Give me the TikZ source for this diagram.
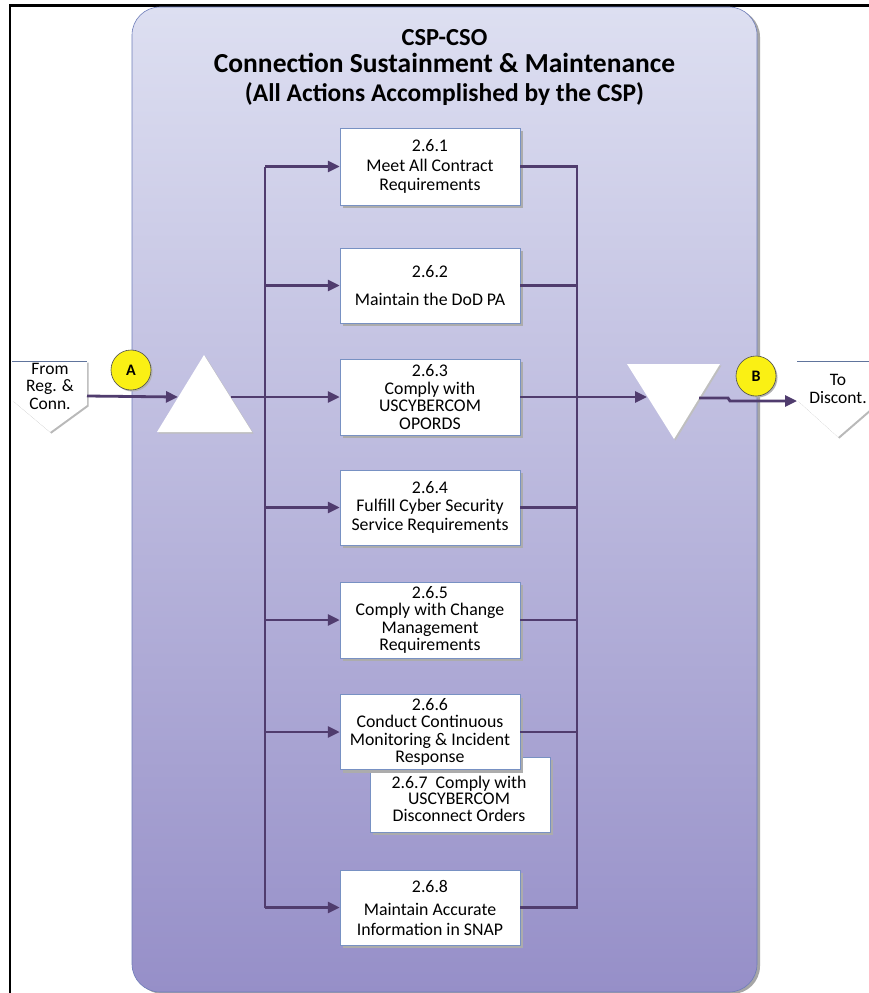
\documentclass[tikz,border=0pt]{standalone}
\usepackage{fontspec}
\setmainfont{Carlito}
\usetikzlibrary{arrows.meta,shadows}
\definecolor{flowc}{RGB}{80,60,110}
\definecolor{panelTop}{RGB}{221,223,241}
\definecolor{panelBot}{RGB}{150,143,200}
\definecolor{panelEdge}{RGB}{110,125,185}
\definecolor{boxEdge}{RGB}{120,145,195}
\definecolor{markY}{RGB}{250,240,20}
\tikzset{
  flow/.style={draw=flowc,line width=2.8pt},
  arr/.style={flow,-{Triangle[length=12pt,width=11pt]}},
  stepbox/.style={draw=boxEdge,line width=0.5pt,fill=white,minimum width=180pt,
    minimum height=76pt,inner sep=2pt,align=center,font=\fontsize{17.8}{17.5}\selectfont,
    drop shadow={shadow xshift=3pt,shadow yshift=-3pt,fill=gray!65,opacity=1}},
  steptext/.style={align=center,inner sep=0pt,font=\fontsize{17.8}{16.5}\selectfont},
  marker/.style={circle,fill=markY,draw=black!70,line width=0.6pt,minimum size=40pt,
    inner sep=0pt,font=\bfseries\fontsize{16}{16}\selectfont,
    drop shadow={shadow xshift=1.5pt,shadow yshift=-1.5pt,fill=gray!60,opacity=1}},
  conntext/.style={align=center,inner sep=0pt,font=\fontsize{17.5}{17.5}\selectfont},
  pageconn/.style={fill=white,drop shadow={shadow xshift=1.5pt,shadow yshift=-1.5pt,fill=gray!55,opacity=1}},
  tri/.style={fill=white,drop shadow={shadow xshift=1.5pt,shadow yshift=-1.5pt,fill=gray!50,opacity=1}}
}
\begin{document}
\begin{tikzpicture}[x=1pt,y=-1pt]
\useasboundingbox (0,0) rectangle (869,993);
\fill[white] (0,0) rectangle (869,993);

% page frame
\draw[black,line width=3pt] (9,5) -- (869,5);
\draw[black,line width=2pt] (10,4) -- (10,993);

% swim-lane panel
\fill[gray!70,rounded corners=28pt] (135,9) rectangle (760,994);
\shade[top color=panelTop,bottom color=panelBot,rounded corners=28pt,draw=panelEdge,line width=0.6pt]
  (132,7) rectangle (757,992);

% title
\node[align=center,inner sep=0pt,font=\bfseries\fontsize{24.5}{25}\selectfont] (title1) at (444.5,38) {CSP-CSO};
\node[align=center,inner sep=0pt,font=\bfseries\fontsize{27.5}{28}\selectfont] (title2) at (444.5,63) {Connection Sustainment \& Maintenance};
\node[align=center,inner sep=0pt,font=\bfseries\fontsize{25.5}{26}\selectfont] (title3) at (444.5,94) {(All Actions Accomplished by the CSP)};

% bus lines
\coordinate (busL) at (265,0);
\coordinate (busR) at (577,0);

% process steps (2.6.7 sits partly behind 2.6.6)
\node[stepbox,minimum height=75pt] (b7) at (460,794.5) {};
\node[steptext] (b7txt) at (459,798.5) {2.6.7\ \ Comply with\\USCYBERCOM\\Disconnect Orders};
\node[stepbox,minimum height=77pt] (b1) at (430,166.5) {2.6.1\\[2pt]Meet All Contract\\[2pt]Requirements};
\node[stepbox,minimum height=75pt] (b2) at (430,285.5) {2.6.2\\[10pt]Maintain the DoD PA};
\node[stepbox] (b3) at (430,397) {2.6.3\\Comply with\\USCYBERCOM\\OPORDS};
\node[stepbox,minimum height=75pt] (b4) at (430,507.5) {2.6.4\\Fulfill Cyber Security\\[2pt]Service Requirements};
\node[stepbox] (b5) at (430,620) {2.6.5\\Comply with Change\\Management\\Requirements};
\node[stepbox,minimum height=75pt] (b6) at (430,732) {2.6.6\\Conduct Continuous\\Monitoring \& Incident\\Response};
\node[stepbox,minimum height=75pt] (b8) at (430,907.5) {2.6.8\\[6pt]Maintain Accurate\\[2pt]Information in SNAP};

% merge / split triangles
\path[tri] (204,355) -- (252,432) -- (157,432) -- cycle;
\path[tri] (627,364) -- (720,364) -- (674,439) -- cycle;
\coordinate (upL) at (178,397);
\coordinate (upR) at (231,397);
\coordinate (dnL) at (647,397);
\coordinate (dnR) at (699,398);

% off-page connectors
\path[pageconn] (12,361) -- (87,361) -- (87,405) -- (50,432) -- (12,400) -- cycle;
\draw[draw=boxEdge!80!black,line width=0.7pt] (12,361) -- (87,361);
\node[conntext] (fromtxt) at (50,386) {From\\Reg. \&\\Conn.};
\coordinate (fromR) at (87,396);

\path[pageconn] (797,361) -- (875,361) -- (875,405) -- (838,437) -- (797,400) -- cycle;
\draw[draw=boxEdge!80!black,line width=0.7pt] (797,361) -- (869,361);
\node[conntext] (totxt) at (838,389) {To\\Discont.};
\coordinate (toL) at (797,401);

% markers
\node[marker] (mA) at (131,370) {A};
\node[marker] (mB) at (756,376) {B};

% flow connectors
\draw[arr] (fromR) -- (upL);
\draw[flow] (busL |- b1) -- (busL |- b8);
\draw[flow] (b1.east) -- (busR |- b1) -- (busR |- b8) -- (b8.east);
\foreach \b in {b2,b4,b5,b6}{
  \draw[flow] (\b.east) -- (busR |- \b);
}
\foreach \b in {b1,b2,b4,b5,b6,b8}{
  \draw[arr] (busL |- \b) -- (\b.west);
}
\draw[arr] (upR) -- (b3.west);
\draw[arr] (b3.east) -- (dnL);
\draw[arr] (dnR) -- (728,398) -- (730,401) -- (toL);
\end{tikzpicture}
\end{document}
